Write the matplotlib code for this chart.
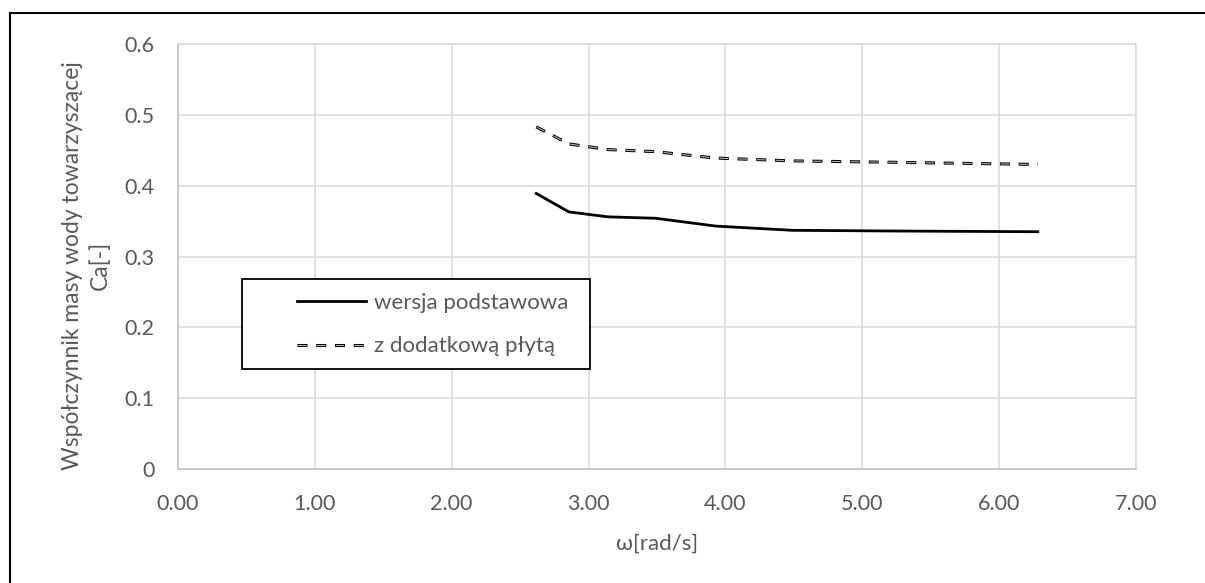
import matplotlib
matplotlib.use("Agg")
import matplotlib.pyplot as plt
from matplotlib.lines import Line2D
from matplotlib.patches import Rectangle
from matplotlib.ticker import FuncFormatter

plt.rcParams['font.family'] = ['Lato', 'DejaVu Sans']
plt.rcParams['lines.scale_dashes'] = False

# omega [rad/s]
omega = [2.618, 2.856, 3.142, 3.491, 3.927, 4.488, 5.236, 6.283]
ca_base = [0.389, 0.363, 0.356, 0.354, 0.343, 0.337, 0.336, 0.335]
ca_plate = [0.483, 0.459, 0.451, 0.448, 0.439, 0.435, 0.433, 0.430]

labels = ["wersja podstawowa", "z dodatkową płytą"]
xticks = [0, 1, 2, 3, 4, 5, 6, 7]
yticks = [0, 0.1, 0.2, 0.3, 0.4, 0.5, 0.6]

txt = '#595959'
outer_ls = (0, (7.2, 6.3))
inner_ls = (-0.5, (6.2, 7.3))
fs = 16

fig = plt.figure(figsize=(12.05, 5.83), dpi=100)
ax = fig.add_axes([0.1477, 0.1955, 0.795, 0.729])

ax.plot(omega, ca_base, color='black', lw=2.0)
ax.plot(omega, ca_plate, color='black', lw=2.2, linestyle=outer_ls, dash_capstyle='butt')
ax.plot(omega, ca_plate, color='#b0b0b0', lw=0.8, linestyle=inner_ls, dash_capstyle='butt')

ax.set_xlim(0, 7)
ax.set_ylim(0, 0.6)
ax.set_xticks(xticks)
ax.set_yticks(yticks)
ax.xaxis.set_major_formatter(FuncFormatter(lambda v, p: '%.2f' % v))
ax.yaxis.set_major_formatter(FuncFormatter(lambda v, p: '0' if v == 0 else '%.1f' % v))
ax.grid(True, color='#d9d9d9', lw=1.1)
ax.set_axisbelow(True)
ax.tick_params(length=0, labelsize=15.5, labelcolor=txt)
ax.tick_params(axis='x', pad=18)
ax.tick_params(axis='y', pad=17)
for s in ax.spines.values():
    s.set_color('#d9d9d9')
    s.set_linewidth(1.1)
ax.spines['left'].set_color('#bfbfbf')
ax.spines['bottom'].set_color('#bfbfbf')

# legend box
ax.add_patch(Rectangle((0.0668, 0.235), 0.363, 0.212, transform=ax.transAxes,
                       fill=True, facecolor='white', edgecolor='black', lw=1.3, zorder=4))
h1 = Line2D([], [], color='black', lw=2.0)
h2a = Line2D([], [], color='black', lw=2.2, linestyle=outer_ls, dash_capstyle='butt')
h2b = Line2D([], [], color='#b0b0b0', lw=0.8, linestyle=inner_ls, dash_capstyle='butt')
leg = ax.legend([h1, (h2a, h2b)], labels, loc='upper left',
                bbox_to_anchor=(0.124, 0.414), frameon=False, fontsize=fs,
                handlelength=3.1, handletextpad=0.36, labelspacing=1.05,
                borderpad=0, borderaxespad=0)
leg.set_zorder(5)
for t in leg.get_texts():
    t.set_color(txt)

fig.text(0.545, 0.068, "ω[rad/s]", ha='center', va='center', fontsize=fs, color=txt)
fig.text(0.06, 0.544, "Współczynnik masy wody towarzyszącej", rotation=90,
         ha='center', va='center', fontsize=16.5, color=txt)
fig.text(0.083, 0.544, "Ca[-]", rotation=90, ha='center', va='center',
         fontsize=16.5, color=txt)

# outer frame (left and top edges only)
fig.add_artist(Line2D([10 / 1205, 10 / 1205], [0, 1 - 13 / 583],
                      transform=fig.transFigure, color='black', lw=1.5))
fig.add_artist(Line2D([10 / 1205, 1], [1 - 13 / 583, 1 - 13 / 583],
                      transform=fig.transFigure, color='black', lw=1.5))

fig.savefig('out.png', dpi=100)
